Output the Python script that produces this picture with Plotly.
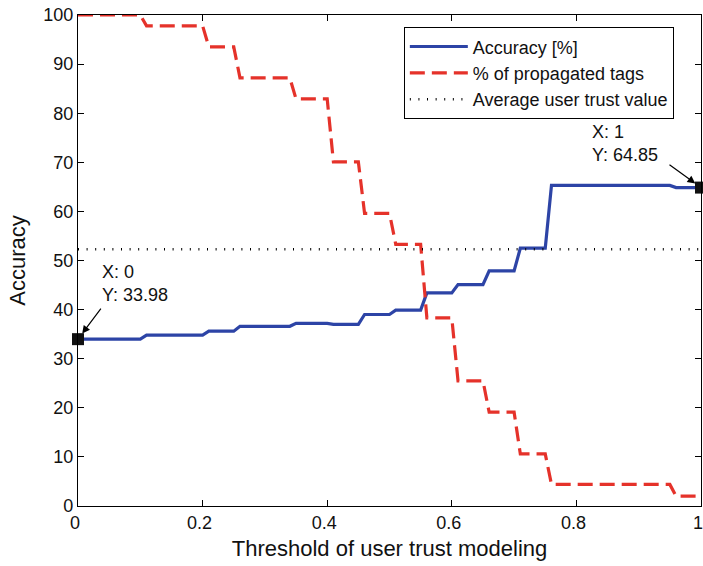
import plotly.graph_objects as go

# Threshold breakpoints (x) shared by both step curves
threshold = [0, 0.10, 0.11, 0.20, 0.21, 0.25, 0.26, 0.34, 0.35, 0.40, 0.41, 0.45, 0.46,
             0.50, 0.51, 0.55, 0.56, 0.60, 0.61, 0.65, 0.66, 0.70, 0.71, 0.75, 0.76,
             0.95, 0.96, 1.0]
accuracy = [33.98, 33.98, 34.8, 34.8, 35.6, 35.6, 36.6, 36.6, 37.2, 37.2, 37.0, 37.0, 39.0,
            39.0, 39.9, 39.9, 43.4, 43.4, 45.1, 45.1, 47.9, 47.9, 52.5, 52.5, 65.3,
            65.3, 64.85, 64.85]
propagated = [100, 100, 97.8, 97.8, 93.5, 93.5, 87.2, 87.2, 82.9, 82.9, 70.1, 70.1, 59.6,
              59.6, 53.3, 53.3, 38.3, 38.3, 25.5, 25.5, 19.1, 19.1, 10.6, 10.6, 4.4,
              4.4, 2.0, 2.0]
avg_trust_x = [0, 1]
avg_trust = [52.3, 52.3]

datatip_x = [0, 1]
datatip_y = [33.98, 64.85]
datatip_text = ["X: 0<br>Y: 33.98", "X: 1<br>Y: 64.85"]

x_ticks = [0, 0.2, 0.4, 0.6, 0.8, 1]
x_ticklabels = ["0", "0.2", "0.4", "0.6", "0.8", "1"]
y_ticks = [0, 10, 20, 30, 40, 50, 60, 70, 80, 90, 100]

FONT = "Liberation Sans, Arial, Helvetica, sans-serif"
BLUE = "#2d44a6"
RED = "#e5322a"

fig = go.Figure()
fig.add_trace(go.Scatter(x=threshold, y=accuracy, mode="lines", name="Accuracy [%]",
                         line=dict(color=BLUE, width=3.2), legendgroup="a"))
fig.add_trace(go.Scatter(x=threshold, y=propagated, mode="lines", name="% of propagated tags",
                         line=dict(color=RED, width=3.2, dash="15px,7px"), legendgroup="b"))
fig.add_trace(go.Scatter(x=avg_trust_x, y=avg_trust, mode="lines", name="Average user trust value",
                         line=dict(color="black", width=2.5, dash="1px,7.6px"), legendgroup="c"))
fig.add_trace(go.Scatter(x=datatip_x, y=datatip_y, mode="markers", showlegend=False,
                         marker=dict(symbol="square", size=12, color="#111111"),
                         cliponaxis=False))

# data tip labels
fig.add_annotation(x=datatip_x[0], y=datatip_y[0], text=datatip_text[0], showarrow=False,
                   xanchor="left", yanchor="bottom", xshift=22, yshift=32, align="left",
                   font=dict(size=18, family=FONT, color="#111111"))
fig.add_annotation(x=datatip_x[0], y=datatip_y[0], text="", showarrow=True,
                   ax=24, ay=-32, arrowhead=2, arrowsize=1.3, arrowwidth=1.2,
                   arrowcolor="black", standoff=7)
fig.add_annotation(x=datatip_x[1], y=datatip_y[1], text=datatip_text[1], showarrow=False,
                   xanchor="left", yanchor="bottom", xshift=-111, yshift=21, align="left",
                   font=dict(size=18, family=FONT, color="#111111"))
fig.add_annotation(x=datatip_x[1], y=datatip_y[1], text="", showarrow=True,
                   ax=-33, ay=-24, arrowhead=2, arrowsize=1.3, arrowwidth=1.2,
                   arrowcolor="black", standoff=7)

fig.update_xaxes(range=[0, 1], tickvals=x_ticks, ticktext=x_ticklabels,
                 ticks="inside", ticklen=6, tickwidth=1, tickcolor="black",
                 showline=True, linecolor="black", linewidth=1.3, mirror="ticks",
                 showgrid=False, zeroline=False, ticklabeloverflow="allow",
                 ticklabelshift=-3,
                 tickfont=dict(size=18, family=FONT, color="#111111"),
                 title=dict(text="Threshold of user trust modeling",
                            font=dict(size=22, family=FONT, color="#111111"), standoff=8))
fig.update_yaxes(range=[0, 100], tickvals=y_ticks,
                 ticks="inside", ticklen=6, tickwidth=1, tickcolor="black",
                 showline=True, linecolor="black", linewidth=1.3, mirror="ticks",
                 showgrid=False, zeroline=False, ticklabeloverflow="allow",
                 tickfont=dict(size=18, family=FONT, color="#111111"),
                 title=dict(text="Accuracy", font=dict(size=22, family=FONT, color="#111111"),
                            standoff=11))

fig.update_layout(
    width=703, height=566,
    margin=dict(l=78, r=2, t=15, b=60, autoexpand=False),
    plot_bgcolor="white", paper_bgcolor="white",
    font=dict(family=FONT, color="#111111"),
    legend=dict(x=0.523, y=0.975, xanchor="left", yanchor="top",
                bgcolor="white", bordercolor="black", borderwidth=1,
                font=dict(size=18, family=FONT, color="#111111"),
                itemwidth=58, tracegroupgap=0, traceorder="grouped"),
)

fig.write_html(
    "out.html",
    config={"displayModeBar": False},
    post_script="document.body.style.margin='0';document.body.style.overflow='hidden';",
)
